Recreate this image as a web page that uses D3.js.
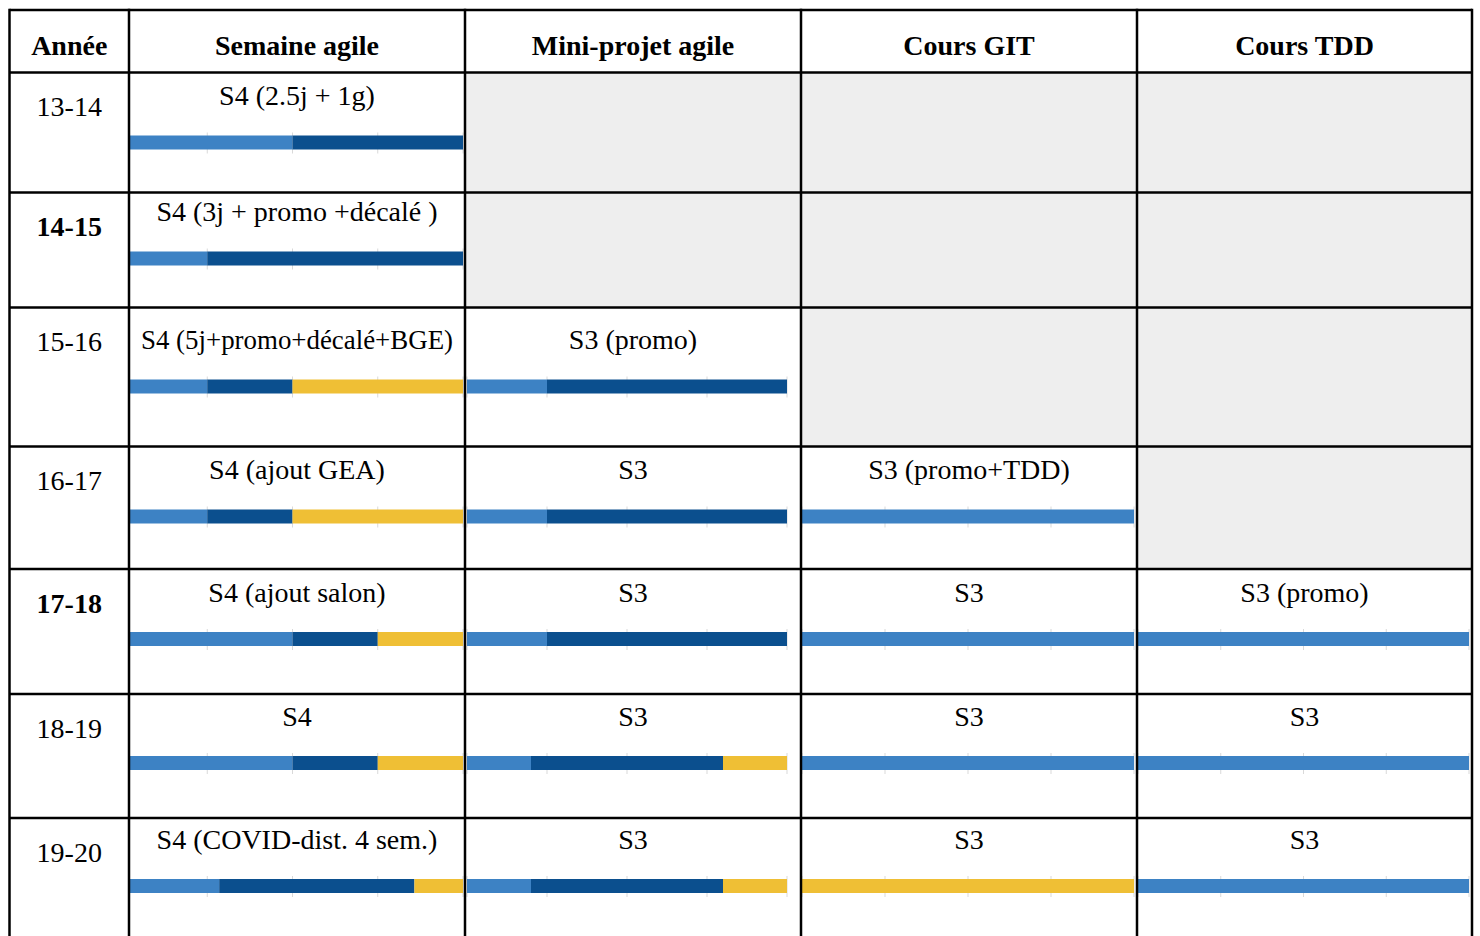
<!DOCTYPE html>
<html>
<head>
<meta charset="utf-8">
<script src="https://cdn.jsdelivr.net/npm/d3@7"></script>
<style>
  body { margin: 0; background: #fff; }
  svg text { font-family: "Liberation Serif", "Times New Roman", Tinos, serif; fill: #000; }
</style>
</head>
<body>
<div id="drawing"></div>
<script>
// data
var years = ["13-14", "14-15", "15-16", "16-17", "17-18", "18-19", "19-20"];
var boldYears = ["14-15", "17-18"];
var columns = ["Semaine agile", "Mini-projet agile", "Cours GIT", "Cours TDD"];

var semaineLabels = ["S4 (2.5j + 1g)", "S4 (3j + promo +décalé )", "S4 (5j+promo+décalé+BGE)", "S4 (ajout GEA)", "S4 (ajout salon)", "S4", "S4 (COVID-dist. 4 sem.)"];
var miniLabels = [null, null, "S3 (promo)", "S3", "S3", "S3", "S3"];
var gitLabels = [null, null, null, "S3 (promo+TDD)", "S3", "S3", "S3"];
var tddLabels = [null, null, null, null, "S3 (promo)", "S3", "S3"];

// segment lengths, axis 0..4
var semaineLight = [2, 1, 1, 1, 2, 2, 1.14];
var semaineDark = [2, 3, 1, 1, 1, 1, 2.29];
var semaineYellow = [0, 0, 2, 2, 1, 1, 0.57];
var miniLight = [null, null, 1, 1, 1, 0.8, 0.8];
var miniDark = [null, null, 3, 3, 3, 2.4, 2.4];
var miniYellow = [null, null, 0, 0, 0, 0.8, 0.8];
var gitLight = [null, null, null, 4, 4, 4, 0];
var gitDark = [null, null, null, 0, 0, 0, 0];
var gitYellow = [null, null, null, 0, 0, 0, 4];
var tddLight = [null, null, null, null, 4, 4, 4];
var tddDark = [null, null, null, null, 0, 0, 0];
var tddYellow = [null, null, null, null, 0, 0, 0];

// layout
var W = 1480, H = 936;
var colEdges = [9.5, 129, 465, 801, 1137, 1472];
var rowEdges = [10, 72.5, 192.5, 307.5, 446.5, 569, 694, 818, 950];
var labelDy = [23, 19, 32, 23, 23, 22, 21];
var barRanges = [[122, 463], [467, 787], [802, 1134], [1138, 1469]];
var colors = { light: "#3d82c4", dark: "#0b4f8e", yellow: "#efbf35" };

var svg = d3.select("#drawing").append("svg")
    .attr("width", W)
    .attr("height", H)
    .attr("font-family", "'Liberation Serif', 'Times New Roman', serif");

var defs = svg.append("defs");

var cols = [
    { labels: semaineLabels, light: semaineLight, dark: semaineDark, yellow: semaineYellow },
    { labels: miniLabels, light: miniLight, dark: miniDark, yellow: miniYellow },
    { labels: gitLabels, light: gitLight, dark: gitDark, yellow: gitYellow },
    { labels: tddLabels, light: tddLight, dark: tddDark, yellow: tddYellow }
];

var stack = d3.stack().keys(["light", "dark", "yellow"]);

// grey empty cells
cols.forEach(function (c, ci) {
    years.forEach(function (y, ri) {
        if (c.labels[ri] == null) {
            svg.append("rect")
                .attr("x", colEdges[ci + 1])
                .attr("y", rowEdges[ri + 1])
                .attr("width", colEdges[ci + 2] - colEdges[ci + 1])
                .attr("height", rowEdges[ri + 2] - rowEdges[ri + 1])
                .attr("fill", "#eeeeee");
        }
    });
});

// mini bar charts
cols.forEach(function (c, ci) {
    var x = d3.scaleLinear().domain([0, 4]).range(barRanges[ci]);
    var rows = years.map(function (y, i) {
        return { year: y, label: c.labels[i], light: c.light[i] || 0, dark: c.dark[i] || 0, yellow: c.yellow[i] || 0 };
    });
    var series = stack(rows);
    var cx = (colEdges[ci + 1] + colEdges[ci + 2]) / 2;

    defs.append("clipPath").attr("id", "clip" + ci)
        .append("rect")
        .attr("x", colEdges[ci + 1] + 1)
        .attr("y", 0)
        .attr("width", colEdges[ci + 2] - colEdges[ci + 1] - 2)
        .attr("height", H);

    var g = svg.append("g").attr("clip-path", "url(#clip" + ci + ")");

    rows.forEach(function (r, ri) {
        if (r.label == null) return;
        var ly = rowEdges[ri + 1] + labelDy[ri];
        var by = ly + 40;

        // faint gridlines
        g.selectAll(null)
            .data(x.ticks(4))
            .enter().append("line")
            .attr("x1", function (d) { return x(d); })
            .attr("x2", function (d) { return x(d); })
            .attr("y1", by - 3)
            .attr("y2", by + 18)
            .attr("stroke", "#d9d9d9")
            .attr("stroke-width", 1);

        g.selectAll(null)
            .data(series.filter(function (s) { return s[ri][1] > s[ri][0]; }))
            .enter().append("rect")
            .attr("x", function (s) { return x(s[ri][0]); })
            .attr("width", function (s) { return x(s[ri][1]) - x(s[ri][0]); })
            .attr("y", by)
            .attr("height", 14)
            .attr("fill", function (s) { return colors[s.key]; });

        var t = svg.append("text")
            .attr("x", cx)
            .attr("y", ly)
            .attr("text-anchor", "middle")
            .attr("dominant-baseline", "central")
            .attr("font-size", 28)
            .text(r.label);
        var maxW = colEdges[ci + 2] - colEdges[ci + 1] - 24;
        if (t.node().getComputedTextLength() > maxW) {
            t.attr("textLength", maxW).attr("lengthAdjust", "spacingAndGlyphs");
        }
    });
});

// header
svg.selectAll(".head")
    .data(["Année"].concat(columns))
    .enter().append("text")
    .attr("class", "head")
    .attr("x", function (d, i) { return (colEdges[i] + colEdges[i + 1]) / 2; })
    .attr("y", 45)
    .attr("text-anchor", "middle")
    .attr("dominant-baseline", "central")
    .attr("font-size", 28)
    .attr("font-weight", "bold")
    .text(function (d) { return d; });

// years
svg.selectAll(".year")
    .data(years)
    .enter().append("text")
    .attr("class", "year")
    .attr("x", (colEdges[0] + colEdges[1]) / 2)
    .attr("y", function (d, i) { return rowEdges[i + 1] + 34; })
    .attr("text-anchor", "middle")
    .attr("dominant-baseline", "central")
    .attr("font-size", 28)
    .attr("font-weight", function (d) { return boldYears.indexOf(d) >= 0 ? "bold" : "normal"; })
    .text(function (d) { return d; });

// table lines
var grid = svg.append("g").attr("stroke", "#000").attr("stroke-width", 2.5);
colEdges.forEach(function (cx) {
    grid.append("line").attr("x1", cx).attr("x2", cx).attr("y1", rowEdges[0] - 1.2).attr("y2", H);
});
rowEdges.forEach(function (ry) {
    grid.append("line").attr("x1", colEdges[0]).attr("x2", colEdges[colEdges.length - 1]).attr("y1", ry).attr("y2", ry);
});
</script>
</body>
</html>
